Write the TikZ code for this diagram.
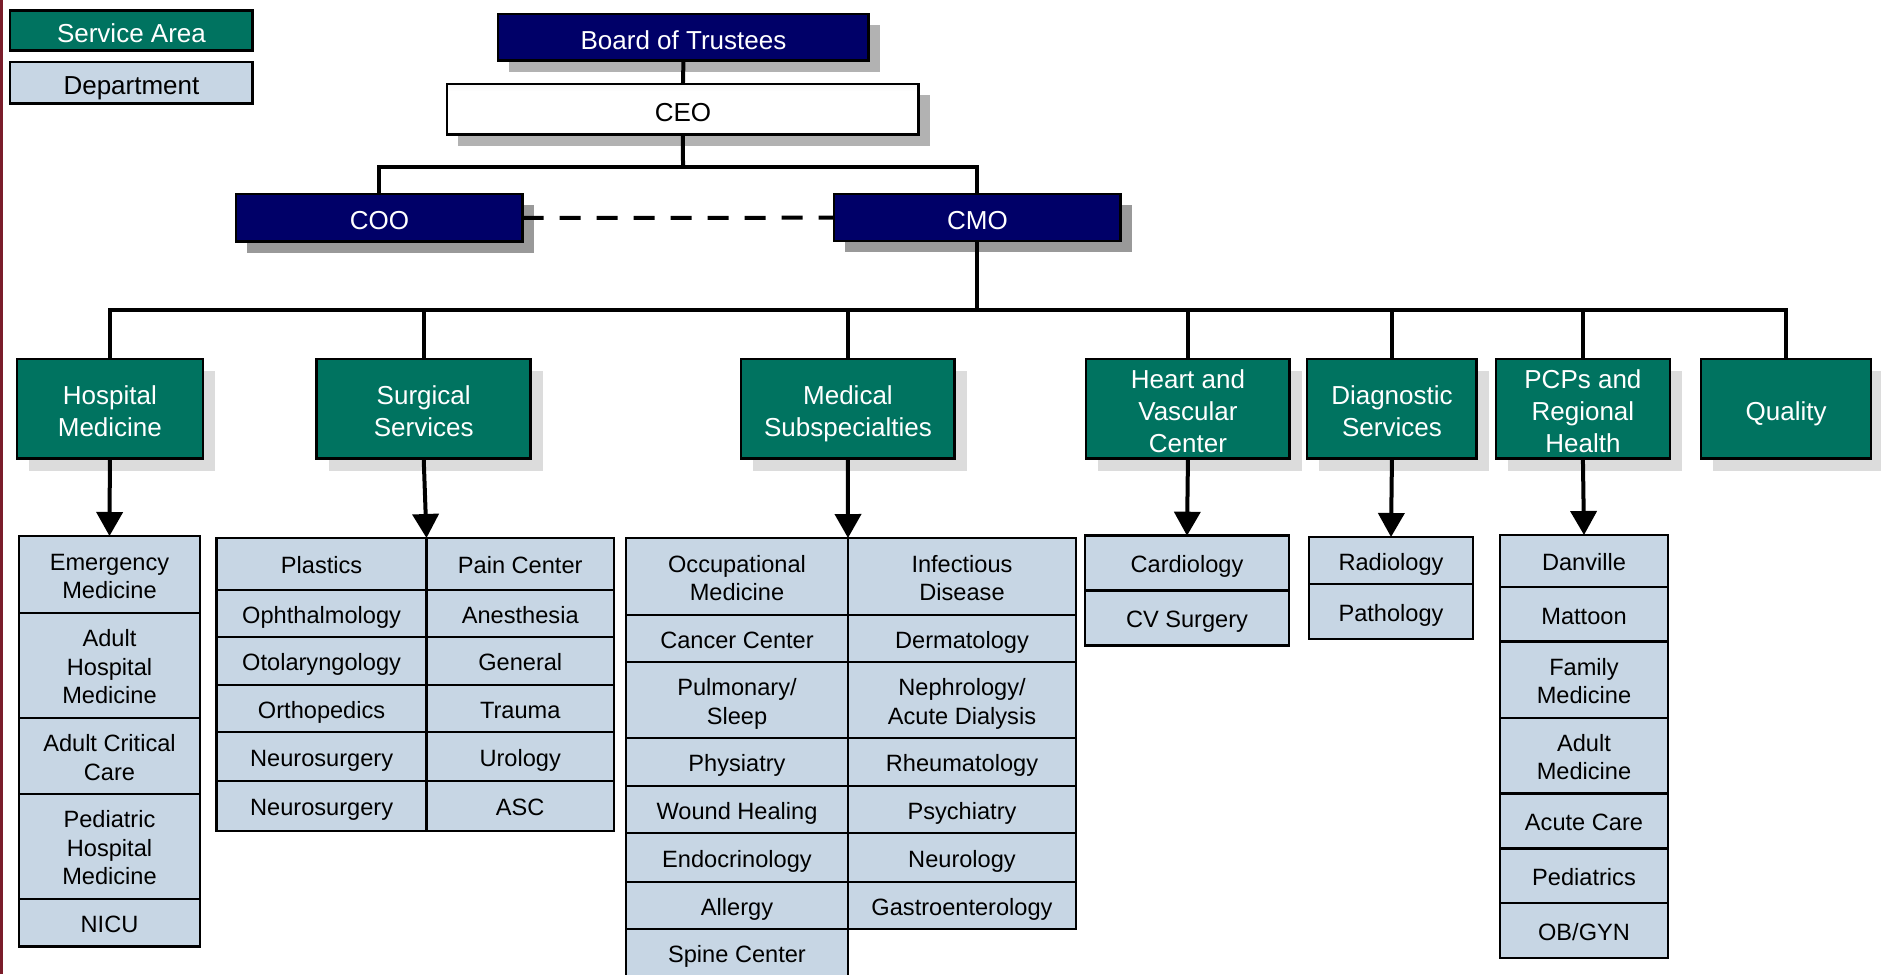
\documentclass[tikz,border=0pt]{standalone}
\usepackage{fontspec}
\setmainfont{Liberation Sans}
\usetikzlibrary{arrows.meta,shadows}

\definecolor{navy}{RGB}{0,0,104}
\definecolor{servicegreen}{RGB}{0,115,96}
\definecolor{deptblue}{RGB}{199,214,228}
\definecolor{shadowmid}{RGB}{178,178,178}
\definecolor{shadowdark}{RGB}{153,153,153}
\definecolor{shadowlight}{RGB}{220,220,220}
\definecolor{edgered}{RGB}{122,28,42}

% glossy fill of the CEO box: grey rim at top and bottom, white in between
\pgfdeclareverticalshading{ceoshade}{100bp}{%
  color(0bp)=(black!22); color(30bp)=(white); color(68bp)=(white); color(100bp)=(black!15)}

% fixed line box for the first and last line of a label, so that the text
% sits at the same height whatever its ascenders and descenders
\def\strutht{29pt}\def\strutdp{5.7pt}
\newcommand{\boxtext}[1]{\rule{0pt}{\strutht}#1\rule[-\strutdp]{0pt}{0pt}}

% one department cell: name, x, y (top left), width, height, text
\newcommand{\deptcell}[6]{\node[dept, minimum width=#4pt, minimum height=#5pt] (#1) at (#2,#3) {\boxtext{#6}};}

\begin{document}
\begin{tikzpicture}[x=1pt, y=-1pt,
  box/.style={draw=black, line width=2.5pt, inner sep=0pt, outer sep=0pt,
    anchor=north west, align=center, text=white,
    font=\fontsize{26}{32}\selectfont\def\strutht{29pt}\def\strutdp{5.7pt}},
  topbox/.style={box, fill=navy,
    general shadow={shadow xshift=11pt, shadow yshift=-11pt, fill=shadowdark}},
  boardbox/.style={box, fill=navy,
    general shadow={shadow xshift=11pt, shadow yshift=-11pt, fill=shadowmid}},
  ceobox/.style={box, text=black, shading=ceoshade,
    general shadow={shadow xshift=11pt, shadow yshift=-11pt, fill=shadowmid}},
  areabox/.style={box, fill=servicegreen,
    general shadow={shadow xshift=12pt, shadow yshift=-12pt, fill=shadowlight}},
  legendarea/.style={box, fill=servicegreen},
  legenddept/.style={box, fill=deptblue, text=black},
  dept/.style={draw=black, line width=2.5pt, fill=deptblue, inner sep=0pt, outer sep=0pt,
    anchor=north west, align=center, text=black,
    font=\fontsize{23.6}{28.5}\selectfont\def\strutht{24.6pt}\def\strutdp{5.1pt}},
  conn/.style={draw=black, line width=4pt},
  down/.style={conn, -{Triangle[width=26pt, length=24pt]}},
  dotted link/.style={conn, dash pattern=on 21pt off 16pt}
]
\path[use as bounding box] (0,0) rectangle (1881,974);
\clip (0,0) rectangle (1881,974);

% rule down the left edge
\fill[edgered] (0,0) rectangle (2.7,974);

% legend
\node[legendarea, minimum width=242.5pt, minimum height=40.2pt] (legA) at (10.2,10.5) {\boxtext{Service Area}};
\node[legenddept, minimum width=242.5pt, minimum height=41.2pt] (legD) at (10.2,62.2) {\boxtext{Department}};

% executive level
\node[boardbox, minimum width=370.5pt, minimum height=46.5pt] (board) at (498.2,14.2) {\boxtext{Board of Trustees}};
\node[ceobox, minimum width=471.5pt, minimum height=50.5pt] (ceo) at (447.2,84.2) {\boxtext{CEO}};
\node[topbox, minimum width=286.5pt, minimum height=47.5pt] (coo) at (236.2,194.2) {\boxtext{COO}};
\node[topbox, minimum width=286.5pt, minimum height=47pt] (cmo) at (834.2,194.2) {\boxtext{CMO}};

% service areas
\node[areabox, minimum width=185.8pt, minimum height=99.5pt] (hm) at (17,359.2) {\boxtext{Hospital\\Medicine}};
\node[areabox, minimum width=214pt, minimum height=99.5pt] (ss) at (316.7,359.2) {\boxtext{Surgical\\Services}};
\node[areabox, minimum width=213.5pt, minimum height=99.5pt] (ms) at (741.2,359.2) {\boxtext{Medical\\Subspecialties}};
\node[areabox, minimum width=203.5pt, minimum height=99.5pt] (hvc) at (1086.2,359.2) {\boxtext{Heart and\\Vascular\\Center}};
\node[areabox, minimum width=169.5pt, minimum height=99.5pt] (ds) at (1307.2,359.2) {\boxtext{Diagnostic\\Services}};
\node[areabox, minimum width=173.8pt, minimum height=99.5pt] (pcp) at (1496,359.2) {\boxtext{PCPs and\\Regional\\Health}};
\node[areabox, minimum width=169.8pt, minimum height=99.5pt] (q) at (1701.2,359.2) {\boxtext{Quality}};

% Hospital Medicine departments
\deptcell{hmA}{19}{536}{181}{77}{Emergency\\Medicine}
\deptcell{hmB}{19}{613}{181}{105}{Adult\\Hospital\\Medicine}
\deptcell{hmC}{19}{718}{181}{76}{Adult Critical\\Care}
\deptcell{hmD}{19}{794}{181}{105}{Pediatric\\Hospital\\Medicine}
\deptcell{hmE}{19}{899}{181}{47.5}{NICU}

% Surgical Services departments
\deptcell{ssL1}{216.7}{538}{209.8}{52}{Plastics}
\deptcell{ssL2}{216.7}{590}{209.8}{47}{Ophthalmology}
\deptcell{ssL3}{216.7}{637}{209.8}{48}{Otolaryngology}
\deptcell{ssL4}{216.7}{685}{209.8}{47}{Orthopedics}
\deptcell{ssL5}{216.7}{732}{209.8}{49}{Neurosurgery}
\deptcell{ssL6}{216.7}{781}{209.8}{50}{Neurosurgery}
\deptcell{ssR1}{426.5}{538}{187.5}{52}{Pain Center}
\deptcell{ssR2}{426.5}{590}{187.5}{47}{Anesthesia}
\deptcell{ssR3}{426.5}{637}{187.5}{48}{General}
\deptcell{ssR4}{426.5}{685}{187.5}{47}{Trauma}
\deptcell{ssR5}{426.5}{732}{187.5}{49}{Urology}
\deptcell{ssR6}{426.5}{781}{187.5}{50}{ASC}

% Medical Subspecialties departments
\deptcell{msL1}{626}{538}{222}{77}{Occupational\\Medicine}
\deptcell{msL2}{626}{615}{222}{47}{Cancer Center}
\deptcell{msL3}{626}{662}{222}{76}{Pulmonary/\\Sleep}
\deptcell{msL4}{626}{738}{222}{48}{Physiatry}
\deptcell{msL5}{626}{786}{222}{47}{Wound Healing}
\deptcell{msL6}{626}{833}{222}{49}{Endocrinology}
\deptcell{msL7}{626}{882}{222}{47}{Allergy}
\deptcell{msL8}{626}{929}{222}{48}{Spine Center}
\deptcell{msR1}{848}{538}{228}{77}{Infectious\\Disease}
\deptcell{msR2}{848}{615}{228}{47}{Dermatology}
\deptcell{msR3}{848}{662}{228}{76}{Nephrology/\\Acute Dialysis}
\deptcell{msR4}{848}{738}{228}{48}{Rheumatology}
\deptcell{msR5}{848}{786}{228}{47}{Psychiatry}
\deptcell{msR6}{848}{833}{228}{49}{Neurology}
\deptcell{msR7}{848}{882}{228}{47}{Gastroenterology}

% Heart and Vascular Center departments
\deptcell{hvcA}{1085}{535.7}{204}{55}{Cardiology}
\deptcell{hvcB}{1085}{590.7}{204}{54.6}{CV Surgery}

% Diagnostic Services departments
\deptcell{dsA}{1309}{537}{164}{47}{Radiology}
\deptcell{dsB}{1309}{584}{164}{55}{Pathology}

% PCPs and Regional Health departments
\deptcell{pcpA}{1500}{535}{168}{52}{Danville}
\deptcell{pcpB}{1500}{587}{168}{54.7}{Mattoon}
\deptcell{pcpC}{1500}{641.7}{168}{76.3}{Family\\Medicine}
\deptcell{pcpD}{1500}{718}{168}{75.7}{Adult\\Medicine}
\deptcell{pcpE}{1500}{793.7}{168}{55}{Acute Care}
\deptcell{pcpF}{1500}{848.7}{168}{54.3}{Pediatrics}
\deptcell{pcpG}{1500}{903}{168}{55}{OB/GYN}

% reporting lines
\coordinate (bus1) at (683,167);
\coordinate (bus2) at (976,310);
\draw[conn] (board.south) -- (ceo.north);
\draw[conn] (ceo.south) -- (bus1);
\draw[conn] (coo.north) |- (bus1) -| (cmo.north);
\draw[dotted link] (coo.east) -- (cmo.west);
\draw[conn] (cmo.south) -- (cmo.south |- bus2);
\draw[conn] (hm.north) |- (bus2) -| (q.north);
\foreach \n in {ss,ms,hvc,ds,pcp}
  \draw[conn] (\n.north) -- (\n.north |- bus2);

% service areas to their departments
\draw[down] (hm.south) -- (hmA.north);
\draw[down] (ss.south) -- (ssL1.north east);
\draw[down] (ms.south) -- (msL1.north east);
\draw[down] (hvc.south) -- (hvcA.north);
\draw[down] (ds.south) -- (dsA.north);
\draw[down] (pcp.south) -- (pcpA.north);
\end{tikzpicture}
\end{document}
